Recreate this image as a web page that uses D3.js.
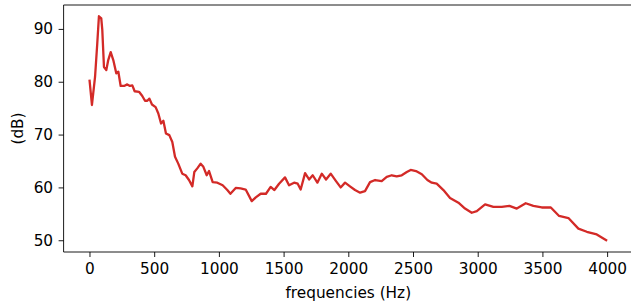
<!DOCTYPE html>
<html>
<head>
<meta charset="utf-8">
<script src="https://cdn.jsdelivr.net/npm/d3@7"></script>
<style>
  body { margin: 0; background: #fff; }
  svg { display: block; }
  .tick text { font-family: "DejaVu Sans", sans-serif; font-size: 15.3px; fill: #000; }
  .label { font-family: "DejaVu Sans", sans-serif; font-size: 15.3px; fill: #000; }
</style>
</head>
<body>
<svg id="chart" width="631" height="303"></svg>
<script>
// spectrum
var freqs = [0, 19, 43, 60, 73, 91, 99, 112, 130, 145, 164, 184, 207, 223, 241, 267, 292, 313, 331, 349,
  383, 408, 429, 447, 463, 483, 511, 532, 553, 571, 591, 617, 640, 661, 686, 717, 743, 769, 795, 810,
  833, 859, 880, 906, 924, 952, 988, 1029, 1065, 1089, 1130, 1168, 1207, 1254, 1285, 1323, 1364, 1400,
  1429, 1465, 1511, 1542, 1581, 1609, 1632, 1666, 1697, 1725, 1761, 1795, 1828, 1864, 1905, 1941, 1975,
  2013, 2052, 2091, 2129, 2168, 2207, 2258, 2297, 2336, 2374, 2413, 2452, 2482, 2523, 2568, 2611, 2645,
  2683, 2735, 2786, 2851, 2902, 2954, 2993, 3057, 3121, 3186, 3245, 3302, 3371, 3430, 3495, 3565, 3629,
  3701, 3778, 3843, 3920, 4000];
var levels = [80.4, 75.6, 80.9, 87.2, 92.4, 92.0, 89.8, 82.8, 82.2, 84.1, 85.6, 84.1, 81.6, 81.9, 79.2,
  79.2, 79.5, 79.2, 79.3, 78.2, 78.1, 77.3, 76.4, 76.4, 76.8, 75.7, 75.2, 74.0, 72.1, 72.6, 70.2, 69.9,
  68.6, 65.8, 64.5, 62.6, 62.3, 61.4, 60.2, 62.9, 63.6, 64.5, 63.9, 62.3, 63.1, 61.0, 60.9, 60.4, 59.5,
  58.8, 59.9, 59.8, 59.6, 57.4, 58.1, 58.8, 58.8, 60.1, 59.5, 60.7, 61.9, 60.4, 60.9, 60.7, 59.6, 62.7,
  61.5, 62.3, 60.9, 62.6, 61.5, 62.6, 61.2, 60.0, 60.9, 60.2, 59.5, 59.0, 59.3, 61.0, 61.4, 61.2, 62.0,
  62.3, 62.1, 62.3, 62.9, 63.3, 63.1, 62.5, 61.4, 60.9, 60.7, 59.5, 58.0, 57.1, 56.0, 55.2, 55.5, 56.8,
  56.3, 56.3, 56.5, 56.0, 57.0, 56.5, 56.2, 56.2, 54.6, 54.2, 52.2, 51.6, 51.1, 49.9];
var xTicks = [0, 500, 1000, 1500, 2000, 2500, 3000, 3500, 4000];
var yTicks = [50, 60, 70, 80, 90];

(function()
{
	var svg = d3.select("#chart");
	var mLeft = 63.6, mRight = 633, mTop = 5, mBottom = 252;

	// matplotlib-like 5% margins
	var xr = d3.extent(freqs), yr = d3.extent(levels);
	var xm = (xr[1] - xr[0]) * 0.05, ym = (yr[1] - yr[0]) * 0.05;

	var x = d3.scaleLinear().domain([xr[0] - xm, xr[1] + xm]).range([mLeft, mRight]);
	var y = d3.scaleLinear().domain([yr[0] - ym, yr[1] + ym]).range([mBottom, mTop]);

	var pts = freqs.map(function(f, i) { return [f, levels[i]]; });

	svg.append("path")
		.datum(pts)
		.attr("fill", "none")
		.attr("stroke", "#d32a27")
		.attr("stroke-width", 2.3)
		.attr("stroke-linejoin", "round")
		.attr("d", d3.line().x(function(d) { return x(d[0]); }).y(function(d) { return y(d[1]); }));

	var gx = svg.append("g")
		.attr("transform", "translate(0," + mBottom + ")")
		.call(d3.axisBottom(x).tickValues(xTicks).tickSize(5).tickPadding(6.5).tickFormat(d3.format("d")));
	var gy = svg.append("g")
		.attr("transform", "translate(" + mLeft + ",0)")
		.call(d3.axisLeft(y).tickValues(yTicks).tickSize(5).tickPadding(5.5).tickFormat(d3.format("d")));

	[gx, gy].forEach(function(g)
	{
		g.select(".domain").remove();
		g.selectAll(".tick line").attr("stroke", "#000").attr("stroke-width", 0.9);
	});

	// spines
	var spines = [
		[mLeft, mTop, mLeft, mBottom],
		[mLeft, mBottom, mRight, mBottom],
		[mLeft, mTop, mRight, mTop],
		[mRight, mTop, mRight, mBottom]
	];
	svg.selectAll("line.spine").data(spines).enter().append("line")
		.attr("class", "spine")
		.attr("x1", function(d) { return d[0]; })
		.attr("y1", function(d) { return d[1]; })
		.attr("x2", function(d) { return d[2]; })
		.attr("y2", function(d) { return d[3]; })
		.attr("stroke", "#000").attr("stroke-width", 0.9);

	svg.append("text").attr("class", "label")
		.attr("x", (mLeft + mRight) / 2).attr("y", 298)
		.attr("text-anchor", "middle")
		.text("frequencies (Hz)");

	svg.append("text").attr("class", "label")
		.attr("transform", "translate(23," + (mTop + mBottom) / 2 + ") rotate(-90)")
		.attr("text-anchor", "middle")
		.text("(dB)");
})();
</script>
</body>
</html>
